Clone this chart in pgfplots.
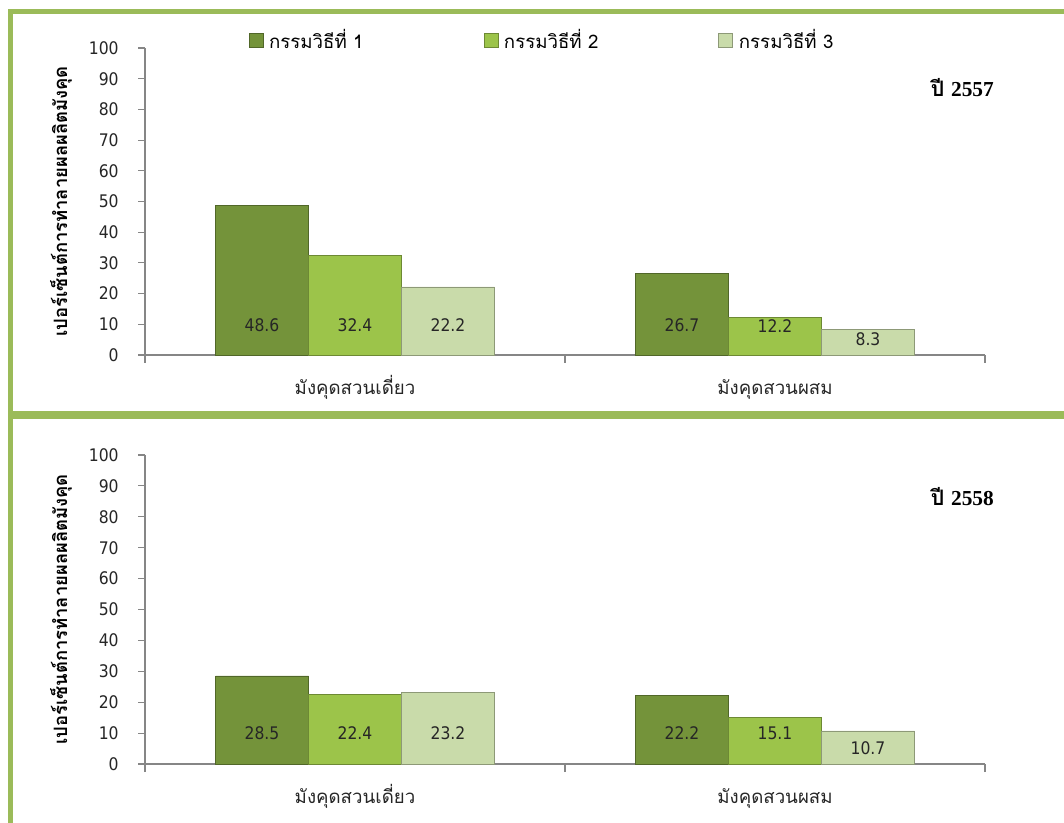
\documentclass[border=0pt]{standalone}
\usepackage{fontspec}
\usepackage{pgfplots}
\pgfplotsset{compat=1.18}
\setmainfont{DejaVu Sans Condensed}
\newfontfamily\thaifont[Script=Thai]{Loma}
\newfontfamily\numserif{Liberation Serif}
\definecolor{frame}{HTML}{9BBB59}
\definecolor{cA}{HTML}{74933A}
\definecolor{cB}{HTML}{9CC44A}
\definecolor{cC}{HTML}{C9DBAA}
\definecolor{axgray}{HTML}{868686}

\tikzset{lbl/.style={font=\fontsize{13}{15}\selectfont, text=black!85}}
\pgfplotsset{
 mybars/.style={
  scale only axis, width=630pt, clip=false,
  ybar=0pt, bar width=69.75pt,
  xmin=-0.5, xmax=1.5, ymin=0, ymax=100,
  axis x line*=bottom, axis y line*=left,
  axis line style={axgray, line width=0.8pt, -},
  tick align=outside,
  xtick={0,1},
  xticklabels={{\thaifont มังคุดสวนเดี่ยว},{\thaifont มังคุดสวนผสม}},
  major x tick style={draw=none},
  minor xtick={-0.5,0.5,1.5},
  minor x tick style={axgray, line width=0.8pt},
  minor tick length=6pt,
  ytick={0,10,...,100},
  major tick length=5.25pt,
  y tick style={axgray, line width=0.8pt},
  /pgf/number format/assume math mode=true,
  tick label style={font=\fontsize{13}{15}\selectfont, text=black!85},
  yticklabel style={xshift=-11pt},
  xticklabel style={font=\thaifont\fontsize{14}{16}\selectfont, anchor=north, text height=13pt, text depth=4pt, yshift=-8pt},
  ylabel={\thaifont\bfseries เปอร์เซ็นต์การทำลายผลผลิตมังคุด},
  ylabel style={at={(axis description cs:-0.1,0.5)}, anchor=center, rotate=0, font=\thaifont\bfseries\fontsize{13.8}{15}\selectfont},
  every axis plot/.append style={line width=0.5pt},
 },
}

\begin{document}
\begin{tikzpicture}
\useasboundingbox (0,0) rectangle (798pt,616.5pt);
\draw[frame, line width=3.75pt] (7.9pt,-10pt) -- (7.9pt,607.5pt) -- (810pt,607.5pt);
\draw[frame, line width=6pt] (7.9pt,305.25pt) -- (810pt,305.25pt);

% top panel: 2557
\begin{axis}[mybars, height=230.25pt, at={(108.75pt,350.25pt)}, anchor=south west,
  legend style={draw=none, fill=none, at={(axis description cs:0.473,1.026)}, anchor=center,
    legend columns=3, font=\thaifont\fontsize{14}{16}\selectfont,
    /tikz/every even column/.append style={column sep=88pt},
    /tikz/every odd column/.append style={column sep=0pt}},
  legend image code/.code={\draw[#1] (0pt,-5.25pt) rectangle (10.5pt,5.25pt);},
]
\addplot[fill=cA, draw=cA!70!black] coordinates {(0,48.6) (1,26.7)};
\addplot[fill=cB, draw=cB!70!black] coordinates {(0,32.4) (1,12.2)};
\addplot[fill=cC, draw=cC!70!black] coordinates {(0,22.2) (1,8.3)};
\legend{\,กรรมวิธีที่ 1, \,กรรมวิธีที่ 2, \,กรรมวิธีที่ 3}
\node[lbl] at (axis cs:0,9.8) [xshift=-69.75pt] {48.6};
\node[lbl] at (axis cs:0,9.8) {32.4};
\node[lbl] at (axis cs:0,9.8) [xshift=69.75pt] {22.2};
\node[lbl] at (axis cs:1,9.8) [xshift=-69.75pt] {26.7};
\node[lbl] at (axis cs:1,9.5) {12.2};
\node[lbl] at (axis cs:1,5.2) [xshift=69.75pt] {8.3};
\node[font=\bfseries\fontsize{16}{18}\selectfont] at (axis description cs:0.973,0.87) {{\thaifont ปี} {\numserif 2557}};
\end{axis}

% bottom panel: 2558
\begin{axis}[mybars, height=231.75pt, at={(108.75pt,43.5pt)}, anchor=south west]
\addplot[fill=cA, draw=cA!70!black] coordinates {(0,28.5) (1,22.2)};
\addplot[fill=cB, draw=cB!70!black] coordinates {(0,22.4) (1,15.1)};
\addplot[fill=cC, draw=cC!70!black] coordinates {(0,23.2) (1,10.7)};
\node[lbl] at (axis cs:0,10) [xshift=-69.75pt] {28.5};
\node[lbl] at (axis cs:0,10) {22.4};
\node[lbl] at (axis cs:0,10) [xshift=69.75pt] {23.2};
\node[lbl] at (axis cs:1,10) [xshift=-69.75pt] {22.2};
\node[lbl] at (axis cs:1,10) {15.1};
\node[lbl] at (axis cs:1,5.2) [xshift=69.75pt] {10.7};
\node[font=\bfseries\fontsize{16}{18}\selectfont] at (axis description cs:0.973,0.864) {{\thaifont ปี} {\numserif 2558}};
\end{axis}
\end{tikzpicture}
\end{document}
